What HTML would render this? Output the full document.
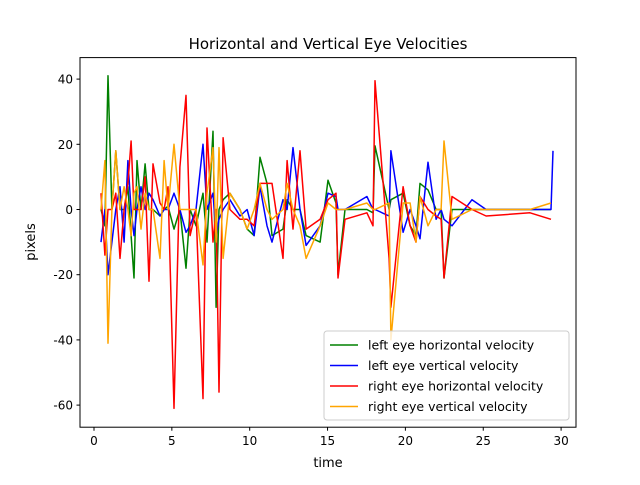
<!DOCTYPE html>
<html><head><meta charset="utf-8"><style>
body{margin:0;background:#fff;}
svg text{font-family:"DejaVu Sans","Liberation Sans",sans-serif;}
</style></head><body>
<svg id="chart" width="640" height="480" xmlns="http://www.w3.org/2000/svg">
<rect width="640" height="480" fill="#fff"/>
<text x="328" y="49" text-anchor="middle" font-size="15">Horizontal and Vertical Eye Velocities</text>
<g id="plot"></g>
<rect x="80" y="57.6" width="496" height="369.6" fill="none" stroke="#000" stroke-width="1"/>
<text x="328" y="467" text-anchor="middle" font-size="13">time</text>
<text x="0" y="0" transform="translate(35,242) rotate(-90)" text-anchor="middle" font-size="13">pixels</text>
<g id="legend"></g>
</svg>
<script>
const times=[0.45,0.7,0.9,1.15,1.4,1.67,1.93,2.18,2.38,2.57,2.76,3.02,3.28,3.53,3.79,4.24,4.5,4.75,5.14,5.52,5.91,6.17,6.55,7.0,7.26,7.64,7.84,8.03,8.29,8.73,9.38,9.83,10.28,10.66,11.11,11.43,12.14,12.4,12.78,13.23,13.62,14.52,15.03,15.54,15.67,16.12,17.53,17.92,18.05,18.95,19.07,19.85,20.3,20.68,20.94,21.45,21.97,22.29,22.48,22.99,24.28,25.18,28.0,29.35,29.48];
const leftH=[0,-5,41,0,18,0,0,7,-8,-21,15,0,14,0,0,-2,0,1,-6,0,-18,0,-5,5,-10,24,-30,0,3,5,0,-6,-8,16,8,-8,-6,3,0,0,-8,-10,9,2,-20,0,0,-1,19.5,0,3,5,-5,-8,8,6,0,0,-21,0,0,0,0,0,null];
const leftV=[-10,0,-20,-10,0,7,-10,15,0,-8,0,7,0,5,3,-2,0,0,5,0,-7,-5,0,20,0,5,-8,-3,0,3,-2,0,-8,7,-5,-10,3,0,19,0,-11,-5,5,4,0,0,4,0,0,-2,18,-7,0,-5,-9,14.5,-3,0,-3,-5,3,0,0,0,18];
const rightH=[5,-14,0,0,5,-15,0,8,21,0,0,0,10,-22,14,2,0,7,-61,13,35,-8,0,-58,25,-10,0,-56,22,0,-3,-3,-5,8,8,8,-15,15,-6,18,-6,-3,3,5,-21,-3,-1,-5,39.5,-15,-30,7,-5,-10,4,0,-2,-3,-21,4,0,-2,-1,-3,null];
const rightV=[0,15,-41,0,18,0,7,0,-8,5,7,-6,5,0,0,-15,15,0,20,0,0,0,0,-17,5,19,-10,19,-15,5,0,-6,0,8,0,-3,0,8,0,-5,-15,-5,2,0,0,0,2,0,0,2,-40,2,2,-10,4,-5,0,0,21,-3,0,0,0,2,null];
const xTicks=[0,5,10,15,20,25,30];
const yTicks=[-60,-40,-20,0,20,40];
const seriesNames=["left eye horizontal velocity","left eye vertical velocity","right eye horizontal velocity","right eye vertical velocity"];
const NS="http://www.w3.org/2000/svg";
const x=t=>94+t*15.57;
const y=v=>209.5-v*3.26;
const plot=document.getElementById('plot');
const svg=document.getElementById('chart');
function mk(tag,attrs,parent){const e=document.createElementNS(NS,tag);for(const k in attrs)e.setAttribute(k,attrs[k]);parent.appendChild(e);return e;}
xTicks.forEach(t=>{
  const l=mk('line',{x1:x(t),x2:x(t),y1:427.2,y2:430.7,stroke:'#000'},svg);
  
  
  const tx=mk('text',{x:x(t),y:445,'text-anchor':'middle','font-size':'12'},svg);tx.textContent=t;
  
  
});
yTicks.forEach(v=>{
  const l=mk('line',{x1:76.5,x2:80,y1:y(v),y2:y(v),stroke:'#000'},svg);
  
  
  const tx=mk('text',{x:73,y:y(v)+4.5,'text-anchor':'end','font-size':'12'},svg);tx.textContent=v;
  
  
});
const colors=['green','blue','red','orange'];
const data=[leftH,leftV,rightH,rightV];
data.forEach((vals,i)=>{
  let d='';
  vals.forEach((v,j)=>{if(v===null)return;d+=(d?'L':'M')+x(times[j]).toFixed(1)+','+y(v).toFixed(1);});
  const p=mk('path',{d:d,fill:'none',stroke:colors[i],'stroke-width':1.5,'stroke-linejoin':'round'},plot);
  
  
});
const lg=document.getElementById('legend');
const box=mk('rect',{x:324,y:331,width:245,height:89,rx:3,fill:'#fff','fill-opacity':0.8,stroke:'#ccc'},lg);


seriesNames.forEach((n,i)=>{
  const yy=345+i*20.5;
  const l=mk('line',{x1:330,x2:358,y1:yy,y2:yy,stroke:colors[i],'stroke-width':1.5},lg);
  
  
  const t=mk('text',{x:368,y:yy+4.5,'font-size':'12.5'},lg);t.textContent=n;
  
  
});
</script>
</body></html>
